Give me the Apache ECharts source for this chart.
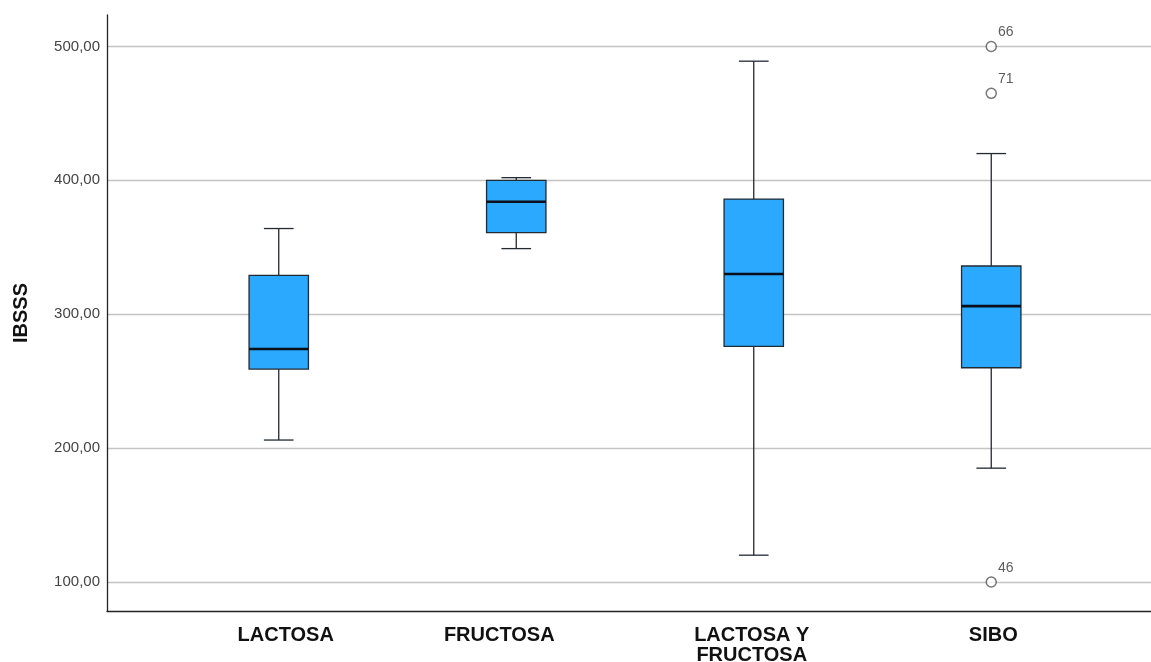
<!DOCTYPE html>
<html>
<head>
<meta charset="utf-8">
<script src="https://cdn.jsdelivr.net/npm/echarts@6/dist/echarts.min.js"></script>
<style>
  html, body { margin: 0; padding: 0; background: #fff; }
  #chart-container { width: 1151px; height: 662px; }
</style>
</head>
<body>
<div id="chart-container"></div>
<script>
// groups on the x axis
var categories = ['LACTOSA', 'FRUCTOSA', 'LACTOSA Y\nFRUCTOSA', 'SIBO'];
// [lower whisker, Q1, median, Q3, upper whisker]
var lowWhisker = [206, 349, 120, 185];
var q1 = [259, 361, 276, 260];
var median = [274, 384, 330, 306];
var q3 = [329, 400, 386, 336];
var highWhisker = [364, 402, 489, 420];
// outliers: [category index, value, case label]
var outlierCat = [3, 3, 3];
var outlierVal = [500, 465, 100];
var outlierId = ['66', '71', '46'];

var yMin = 78.3, yMax = 523.5;

// the labels sit a little off the box centres in the original
var labelPad = [[0, 0, 0, 14], [0, 34, 0, 0], [0, 4, 0, 0], [0, 0, 0, 4]];

var boxData = categories.map(function (c, i) {
  return [i, lowWhisker[i], q1[i], median[i], q3[i], highWhisker[i]];
});
var outData = outlierVal.map(function (v, i) {
  return { value: [outlierCat[i], v], label: { formatter: outlierId[i] } };
});
var catData = categories.map(function (c, i) {
  return { value: c, textStyle: { padding: labelPad[i] } };
});

var dom = document.getElementById('chart-container');
var myChart = echarts.init(dom, null, { renderer: 'canvas' });

function renderBox(params, api) {
  var x = api.value(0);
  var lo = api.coord([x, api.value(1)]);
  var b1 = api.coord([x, api.value(2)]);
  var md = api.coord([x, api.value(3)]);
  var b3 = api.coord([x, api.value(4)]);
  var hi = api.coord([x, api.value(5)]);
  var band = api.size([1, 0])[0];
  var w = band * 0.25;
  var cap = w * 0.5;
  var cx = lo[0];
  var stroke = '#222a33';
  return {
    type: 'group',
    children: [
      { type: 'line', shape: { x1: cx, y1: hi[1], x2: cx, y2: b3[1] }, style: { stroke: stroke, lineWidth: 1.3 } },
      { type: 'line', shape: { x1: cx, y1: lo[1], x2: cx, y2: b1[1] }, style: { stroke: stroke, lineWidth: 1.3 } },
      { type: 'line', shape: { x1: cx - cap / 2, y1: hi[1], x2: cx + cap / 2, y2: hi[1] }, style: { stroke: stroke, lineWidth: 1.3 } },
      { type: 'line', shape: { x1: cx - cap / 2, y1: lo[1], x2: cx + cap / 2, y2: lo[1] }, style: { stroke: stroke, lineWidth: 1.3 } },
      { type: 'rect', shape: { x: cx - w / 2, y: b3[1], width: w, height: b1[1] - b3[1] }, style: { fill: '#2aa9ff', stroke: stroke, lineWidth: 1.3 } },
      { type: 'line', shape: { x1: cx - w / 2, y1: md[1], x2: cx + w / 2, y2: md[1] }, style: { stroke: '#0b0f1a', lineWidth: 2.6 } }
    ]
  };
}

var option = {
  animation: false,
  grid: [
    { left: 107, right: 0, top: 15, bottom: 51, outerBoundsMode: 'none', containLabel: false },
    { left: 160, right: 41, top: 15, bottom: 51, outerBoundsMode: 'none', containLabel: false }
  ],
  xAxis: [
    {
      gridIndex: 0, type: 'value', min: 0, max: 1,
      axisLine: { show: true, onZero: false, lineStyle: { color: '#222', width: 1.3 } },
      axisTick: { show: false }, axisLabel: { show: false }, splitLine: { show: false }
    },
    {
      gridIndex: 1, type: 'category', data: catData, boundaryGap: true,
      axisLine: { show: false }, axisTick: { show: false }, splitLine: { show: false },
      axisLabel: {
        margin: 14, color: '#111', fontFamily: 'Liberation Sans, Arial, sans-serif',
        fontWeight: 'bold', fontSize: 20, lineHeight: 20, interval: 0
      }
    }
  ],
  yAxis: [
    {
      gridIndex: 0, type: 'value', min: yMin, max: yMax, minInterval: 100, maxInterval: 100,
      name: 'IBSSS', nameLocation: 'middle', nameGap: 76,
      nameTextStyle: { color: '#111', fontFamily: 'Liberation Sans, Arial, sans-serif', fontWeight: 'bold', fontSize: 20 },
      axisLine: { show: true, lineStyle: { color: '#222', width: 1.3 } },
      axisTick: { show: false },
      axisLabel: {
        showMinLabel: false, showMaxLabel: false, margin: 7,
        color: '#444', fontFamily: 'Liberation Sans, Arial, sans-serif', fontSize: 15,
        formatter: function (v) { return v.toFixed(2).replace('.', ','); }
      },
      splitLine: { show: true, showMinLine: false, showMaxLine: false, lineStyle: { color: '#c4c4c4', width: 1.3 } }
    },
    {
      gridIndex: 1, type: 'value', min: yMin, max: yMax,
      axisLine: { show: false }, axisTick: { show: false }, axisLabel: { show: false }, splitLine: { show: false }
    }
  ],
  series: [
    {
      type: 'custom', xAxisIndex: 1, yAxisIndex: 1,
      renderItem: renderBox, data: boxData,
      encode: { x: 0, y: [1, 2, 3, 4, 5] }
    },
    {
      type: 'scatter', xAxisIndex: 1, yAxisIndex: 1,
      data: outData, symbol: 'circle', symbolSize: 10,
      itemStyle: { color: '#fff', borderColor: '#555', borderWidth: 1.5 },
      label: {
        show: true, position: 'right', offset: [0, -14], distance: 1,
        color: '#333', fontFamily: 'Liberation Sans, Arial, sans-serif', fontSize: 14
      }
    }
  ]
};

myChart.setOption(option);
window.addEventListener('resize', myChart.resize);
</script>
</body>
</html>
